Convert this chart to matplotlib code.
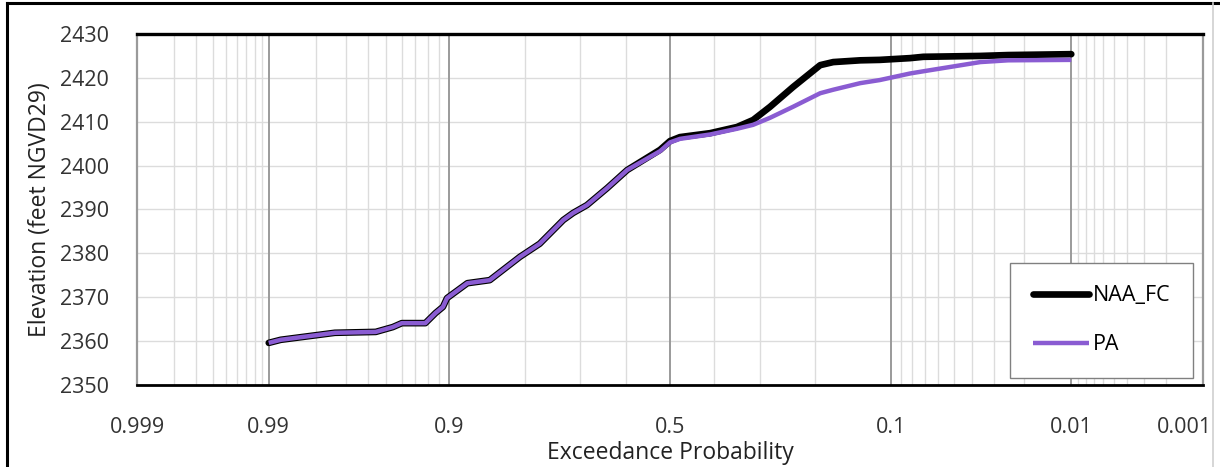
import numpy as np
import matplotlib
matplotlib.use("Agg")
import matplotlib.pyplot as plt
import matplotlib.transforms as mtransforms
from matplotlib.lines import Line2D
from statistics import NormalDist

# ---------------- data ----------------
exceed_prob = [0.99, 0.988, 0.974, 0.956, 0.946, 0.94, 0.922, 0.913, 0.906, 0.902,
               0.88, 0.852, 0.828, 0.808, 0.775, 0.732, 0.713, 0.685, 0.642, 0.598,
               0.523, 0.5, 0.477, 0.408, 0.349, 0.315, 0.281, 0.238, 0.192, 0.172,
               0.135, 0.112, 0.082, 0.071, 0.036, 0.025, 0.01]
naa_fc = [2359.6, 2360.3, 2361.9, 2362.1, 2363.2, 2364.1, 2364.1, 2366.4, 2367.8, 2369.8,
          2373.2, 2373.9, 2376.9, 2379.2, 2382.2, 2387.6, 2389.2, 2391.0, 2394.9, 2399.0,
          2403.6, 2405.6, 2406.5, 2407.4, 2408.8, 2410.4, 2413.4, 2417.9, 2422.9, 2423.6,
          2424.0, 2424.1, 2424.5, 2424.8, 2425.0, 2425.2, 2425.4]
pa = [2359.6, 2360.3, 2361.9, 2362.1, 2363.2, 2364.1, 2364.1, 2366.4, 2367.8, 2369.8,
      2373.2, 2373.9, 2376.9, 2379.2, 2382.2, 2387.6, 2389.2, 2391.0, 2394.9, 2399.0,
      2403.3, 2405.3, 2406.1, 2407.1, 2408.4, 2409.3, 2410.9, 2413.4, 2416.5, 2417.3,
      2418.8, 2419.5, 2421.0, 2421.5, 2423.6, 2424.0, 2424.1]

x_ticks = [0.999, 0.99, 0.9, 0.5, 0.1, 0.01, 0.001]
x_ticklabels = ["0.999", "0.99", "0.9", "0.5", "0.1", "0.01", "0.001"]
major_grid = [0.99, 0.9, 0.5, 0.1, 0.01]
minor_grid = ([0.998, 0.997, 0.996, 0.995, 0.994, 0.993, 0.992, 0.991]
              + [0.98, 0.97, 0.96, 0.95, 0.94, 0.93, 0.92, 0.91]
              + [0.8, 0.7, 0.6, 0.4, 0.3, 0.2]
              + [0.09, 0.08, 0.07, 0.06, 0.05, 0.04, 0.03, 0.02]
              + [0.009, 0.008, 0.007, 0.006, 0.005, 0.004, 0.003, 0.002])
y_ticks = [2350, 2360, 2370, 2380, 2390, 2400, 2410, 2420, 2430]

# ---------------- probability scale ----------------
_nd = NormalDist()
_ppf = np.vectorize(lambda p: _nd.inv_cdf(min(max(float(p), 1e-12), 1 - 1e-12)), otypes=[float])
_cdf = np.vectorize(lambda z: _nd.cdf(float(z)), otypes=[float])


def fwd(p):
    return _ppf(np.asarray(p, dtype=float))


def inv(z):
    return _cdf(np.asarray(z, dtype=float))


plt.rcParams['font.family'] = ['Open Sans', 'DejaVu Sans']

fig = plt.figure(figsize=(12.2, 4.67), dpi=100)
ax = fig.add_axes([0.1123, 0.1756, 0.8738, 0.7516])
ax.set_xscale('function', functions=(fwd, inv))
ax.set_xlim(0.999, 0.001)
ax.set_ylim(2350, 2430)

light = '#dcdcdc'
dark = '#9a9a9a'
for p in minor_grid:
    ax.axvline(p, color=light, lw=1.0, zorder=0)
for p in major_grid:
    ax.axvline(p, color=dark, lw=1.4, zorder=0.5)
for y in y_ticks[1:-1]:
    ax.axhline(y, color=light, lw=1.0, zorder=0)

ax.plot(exceed_prob, naa_fc, color='black', lw=4.8, solid_capstyle='round',
        solid_joinstyle='round', label='NAA_FC', zorder=3)
ax.plot(exceed_prob, pa, color='#8a5cd2', lw=3.2, solid_capstyle='butt',
        label='PA', zorder=4)

ax.set_xticks(x_ticks)
ax.set_xticklabels(x_ticklabels)
ax.set_xticks([], minor=True)
ax.set_yticks(y_ticks)
ax.tick_params(axis='both', length=0, labelsize=15.5, colors='#333333')
ax.tick_params(axis='x', pad=23)
ax.tick_params(axis='y', pad=20)

# last x label sits left of its tick, as in the reference
last = ax.get_xticklabels()[-1]
last.set_horizontalalignment('right')
last.set_transform(last.get_transform() + mtransforms.ScaledTranslation(9 / 100, 0, fig.dpi_scale_trans))

ax.set_xlabel('Exceedance Probability', fontsize=16.5, color='#222222', labelpad=2)
ax.set_ylabel('Elevation (feet NGVD29)', fontsize=16.5, color='#222222', labelpad=6)

ax.spines['top'].set_color('black')
ax.spines['top'].set_linewidth(2.4)
ax.spines['bottom'].set_color('black')
ax.spines['bottom'].set_linewidth(2.0)
for s in ('left', 'right'):
    ax.spines[s].set_color(dark)
    ax.spines[s].set_linewidth(1.6)

leg = ax.legend(loc='lower right', bbox_to_anchor=(0.9906, 0.02), fontsize=15.5,
                frameon=True, fancybox=False, edgecolor='#808080', framealpha=1,
                labelspacing=1.3, handlelength=2.6, handletextpad=0.18,
                borderpad=1.05, borderaxespad=0)
leg.get_frame().set_linewidth(1.0)
leg.set_zorder(10)

# figure border
fig.add_artist(Line2D([7 / 1220, 7 / 1220], [0, 1 - 3 / 467], transform=fig.transFigure,
                      color='black', lw=2.2))
fig.add_artist(Line2D([7 / 1220, 1], [1 - 3 / 467, 1 - 3 / 467], transform=fig.transFigure,
                      color='black', lw=2.2))
fig.add_artist(Line2D([1213 / 1220, 1213 / 1220], [0, 1 - 3 / 467], transform=fig.transFigure,
                      color='#d0d0d0', lw=1.2))

fig.savefig('out.png', dpi=100)
